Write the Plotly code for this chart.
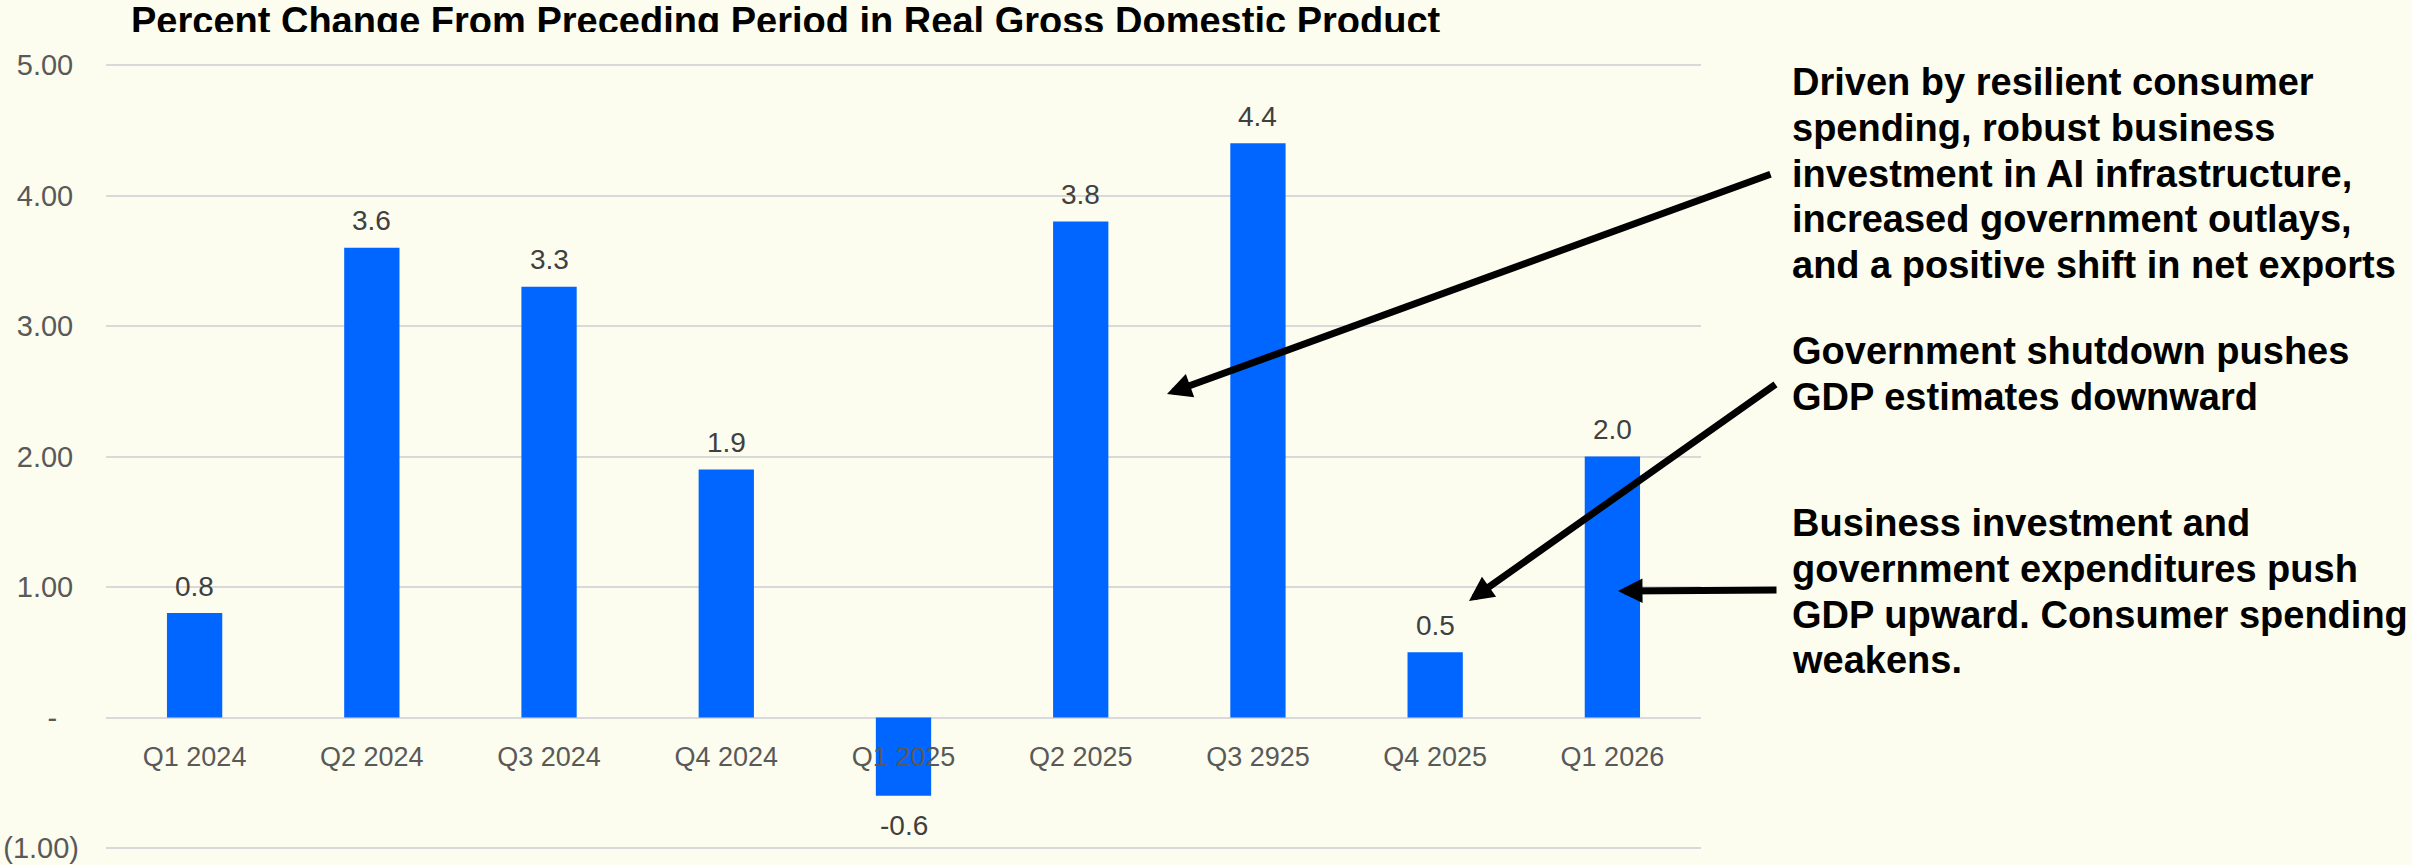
import plotly.graph_objects as go

# ---- data -------------------------------------------------------------
quarters = ["Q1 2024", "Q2 2024", "Q3 2024", "Q4 2024", "Q1 2025",
            "Q2 2025", "Q3 2925", "Q4 2025", "Q1 2026"]
gdp_change = [0.8, 3.6, 3.3, 1.9, -0.6, 3.8, 4.4, 0.5, 2.0]

y_tickvals = [-1, 0, 1, 2, 3, 4, 5]
y_ticktext = ["(1.00)", "-\u2007\u2009", "1.00\u2009", "2.00\u2009",
              "3.00\u2009", "4.00\u2009", "5.00\u2009"]

title_text = "Percent Change From Preceding Period in Real Gross Domestic Product"

note_growth = ["Driven by resilient consumer",
               "spending, robust business",
               "investment in AI infrastructure,",
               "increased government outlays,",
               "and a positive shift in net exports"]
note_shutdown = ["Government shutdown pushes",
                 "GDP estimates downward"]
note_q1_2026 = ["Business investment and",
                "government expenditures push",
                "GDP upward. Consumer spending",
                "weakens."]

# ---- styling / geometry -------------------------------------------------
W, H = 2412, 865
GRID_TOP, GRID_BOTTOM = 65, 848      # pixel rows of the 5.00 and (1.00) lines
EDGE = 3                             # keep end grid lines off the plot edge
M_L, M_R = 106, 711
M_T, M_B = GRID_TOP - EDGE, H - GRID_BOTTOM - EDGE
PW, PH = W - M_L - M_R, H - M_T - M_B

Y_MIN, Y_MAX = min(y_tickvals), max(y_tickvals)
pad_units = EDGE * (Y_MAX - Y_MIN) / (GRID_BOTTOM - GRID_TOP)
Y_RANGE = [Y_MIN - pad_units, Y_MAX + pad_units]

BG = "#FCFDEE"
BAR = "#0066FF"
GRID = "#D9D9D9"
AXIS_TXT = "#595959"
VAL_TXT = "#404040"
FONT = "Liberation Sans"


def fx(x):
    """page pixel x -> paper x"""
    return (x - M_L) / PW


def fy(y):
    """page pixel y -> paper y"""
    return (H - M_B - y) / PH


fig = go.Figure()
fig.add_trace(go.Bar(
    x=quarters, y=gdp_change,
    marker=dict(color=BAR, line=dict(width=0)),
    hoverinfo="x+y",
))

annotations = []

# value labels above / below each bar
for q, v in zip(quarters, gdp_change):
    annotations.append(dict(
        x=q, y=v, xref="x", yref="y",
        text=f"{v:.1f}", showarrow=False,
        yanchor="middle", yshift=27 if v >= 0 else -30,
        font=dict(family=FONT, size=28, color=VAL_TXT),
    ))

# chart title, partly tucked under the plot area
annotations.append(dict(
    x=fx(131), y=fy(21), xref="paper", yref="paper",
    xanchor="left", yanchor="middle", showarrow=False,
    text=title_text, borderpad=0, borderwidth=0,
    font=dict(family=FONT, size=38, color="#000000", weight=700),
))
annotations.append(dict(
    x=fx(115), y=fy(32), xref="paper", yref="paper",
    xanchor="left", yanchor="top", showarrow=False,
    text="\u00a0", width=1400, height=24, bgcolor=BG,
    borderpad=0, borderwidth=0,
))


def note_block(lines, y0, step=45.75, x0=1792):
    for i, line in enumerate(lines):
        annotations.append(dict(
            x=fx(x0), y=fy(y0 + i * step), xref="paper", yref="paper",
            xanchor="left", yanchor="middle", showarrow=False,
            text=line, borderpad=0, borderwidth=0,
            font=dict(family=FONT, size=38, color="#000000", weight=700),
        ))


note_block(note_growth, 82)
note_block(note_shutdown, 351)
note_block(note_q1_2026, 523)


def arrow(tip, tail):
    annotations.append(dict(
        x=fx(tip[0]), y=fy(tip[1]), xref="paper", yref="paper",
        ax=tail[0] - tip[0], ay=tail[1] - tip[1],
        axref="pixel", ayref="pixel",
        text="", showarrow=True, arrowhead=2, arrowsize=0.7,
        arrowwidth=7, arrowcolor="#000000", standoff=0, borderpad=0,
    ))


arrow((1167, 394), (1771, 174))
arrow((1469, 601), (1776, 384))
arrow((1618, 591), (1777, 590))

fig.update_layout(
    width=W, height=H,
    margin=dict(l=M_L, r=M_R, t=M_T, b=M_B, pad=0),
    paper_bgcolor=BG, plot_bgcolor=BG,
    template="none",
    showlegend=False,
    bargap=0.688,
    annotations=annotations,
    xaxis=dict(
        type="category", anchor="free",
        position=(0 - Y_RANGE[0]) / (Y_RANGE[1] - Y_RANGE[0]),
        showgrid=False, showline=False, zeroline=False,
        ticks="", ticklabelstandoff=20, automargin=False,
        tickfont=dict(family=FONT, size=27, color=AXIS_TXT),
    ),
    yaxis=dict(
        range=Y_RANGE, tickvals=y_tickvals, ticktext=y_ticktext,
        showgrid=True, gridcolor=GRID, gridwidth=2,
        zeroline=True, zerolinecolor=GRID, zerolinewidth=2,
        showline=False, ticks="", ticklabelstandoff=26, automargin=False,
        tickfont=dict(family=FONT, size=29, color=AXIS_TXT),
    ),
)

fig.write_html("out.html")
